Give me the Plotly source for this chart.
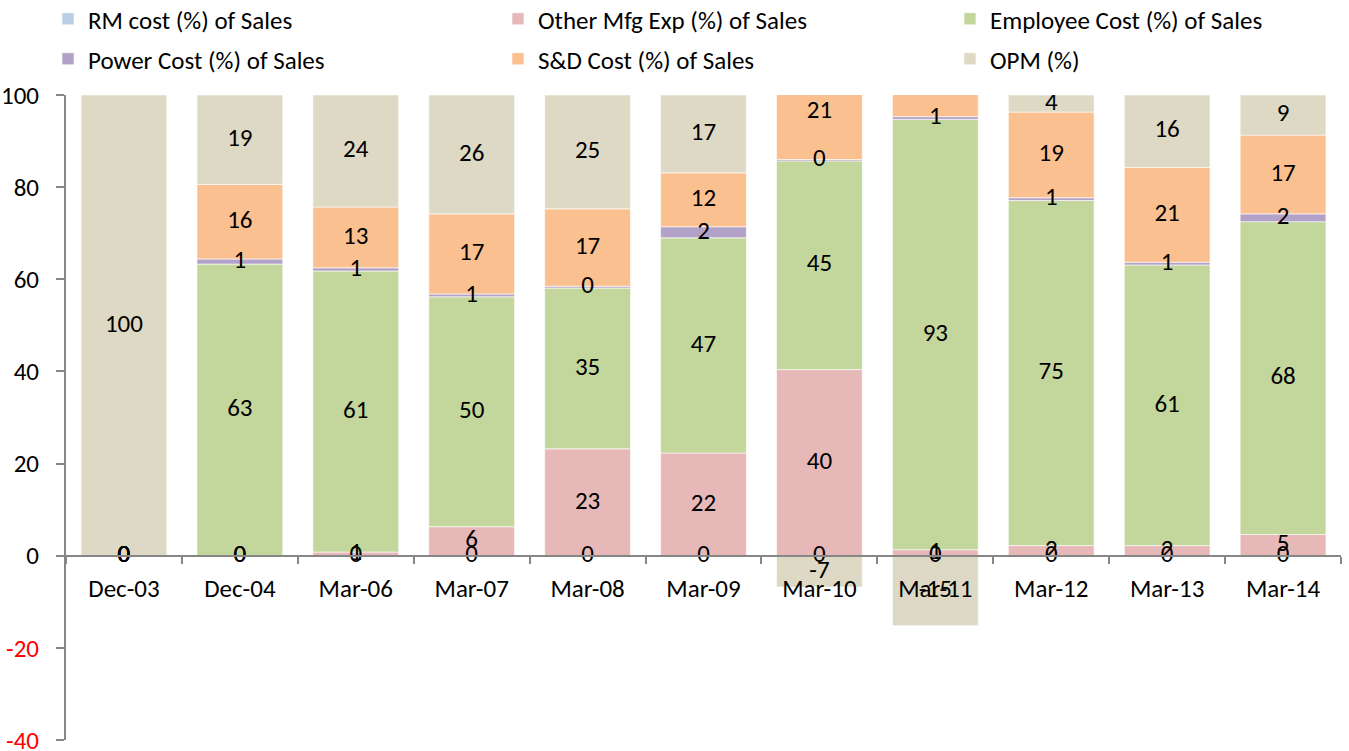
import plotly.graph_objects as go

categories = ["Dec-03", "Dec-04", "Mar-06", "Mar-07", "Mar-08", "Mar-09",
              "Mar-10", "Mar-11", "Mar-12", "Mar-13", "Mar-14"]

rm_cost    = [0, 0, 0, 0, 0, 0, 0, 0, 0, 0, 0]
other_mfg  = [0, 0, 0.8, 6.3, 23.2, 22.3, 40.4, 1.3, 2.2, 2.2, 4.6]
employee   = [0, 63.3, 61.0, 49.9, 34.9, 46.7, 45.3, 93.4, 74.9, 60.9, 67.9]
power      = [0, 1.1, 0.7, 0.6, 0.4, 2.4, 0.3, 0.6, 0.6, 0.6, 1.7]
sd_cost    = [0, 16.2, 13.2, 17.4, 16.8, 11.7, 20.7, 19.9, 18.6, 20.6, 17.1]
opm        = [100, 19.4, 24.3, 25.8, 24.7, 16.9, -6.8, -15.2, 3.7, 15.7, 8.7]

series_names = ["RM cost (%) of Sales", "Other Mfg Exp (%) of Sales",
                "Employee Cost (%) of Sales", "Power Cost (%) of Sales",
                "S&D Cost (%) of Sales", "OPM (%)"]
series_vals = [rm_cost, other_mfg, employee, power, sd_cost, opm]
series_colors = ["#B9CDE5", "#E6B9B8", "#C3D69B", "#B3A2C7", "#FAC090", "#DDD9C4"]

FONT = "Calibri, Carlito, Open Sans, sans-serif"
FS = 25

fig = go.Figure()
legend_ids = ["legend", "legend2", "legend3", "legend4", "legend5", "legend6"]
for name, vals, color, lg in zip(series_names, series_vals, series_colors, legend_ids):
    fig.add_trace(go.Bar(
        x=categories, y=vals, name=name, legend=lg,
        marker=dict(color=color, line=dict(color="white", width=0.6)),
        hoverinfo="x+y+name",
    ))

# data labels centred on each stacked segment (computed from the data)
pos_base = [0.0] * len(categories)
neg_base = [0.0] * len(categories)
lab_x, lab_y, lab_t = [], [], []
for vals in series_vals:
    for i, v in enumerate(vals):
        if v >= 0:
            c = pos_base[i] + v / 2
            pos_base[i] += v
        else:
            c = neg_base[i] + v / 2
            neg_base[i] += v
        lab_x.append(categories[i])
        lab_y.append(c)
        lab_t.append(f"{v:.0f}")

fig.add_trace(go.Scatter(
    x=lab_x, y=lab_y, text=lab_t, mode="text",
    textposition="middle center",
    textfont=dict(family=FONT, size=FS, color="black"),
    showlegend=False, hoverinfo="skip", cliponaxis=True,
))

ytickvals = [100, 80, 60, 40, 20, 0, -20, -40]
yticktext = ["100", "80", "60", "40", "20", "0",
             '<span style="color:red">-20</span>',
             '<span style="color:red">-40</span>']

legend_x = [-0.0141, 0.3388, 0.6933]
legend_y = [1.1178, 1.0558]
legend_cfg = {}
for k, lg in enumerate(legend_ids):
    legend_cfg[lg] = dict(
        orientation="h", x=legend_x[k % 3], xanchor="left",
        y=legend_y[k // 3], yanchor="middle",
        font=dict(family=FONT, size=FS, color="black"),
        bgcolor="rgba(0,0,0,0)",
    )

fig.update_layout(
    barmode="relative",
    bargap=0.26,
    width=1349, height=751,
    margin=dict(l=66, r=8, t=95, b=11, autoexpand=False),
    plot_bgcolor="white", paper_bgcolor="white",
    font=dict(family=FONT, size=FS, color="black"),
    showlegend=True,
    xaxis=dict(
        type="category", anchor="free", position=40 / 140,
        range=[-0.5, len(categories) - 0.5], autorange=False,
        showline=True, linecolor="#868686", linewidth=2,
        ticks="outside", tickson="boundaries", ticklen=7, tickcolor="#868686", tickwidth=2,
        ticklabelstandoff=10,
        showgrid=False, zeroline=False,
        tickfont=dict(family=FONT, size=FS, color="black"),
    ),
    yaxis=dict(
        range=[-40, 100], autorange=False, tickvals=ytickvals, ticktext=yticktext,
        showline=True, linecolor="#868686", linewidth=2,
        ticks="outside", ticklen=8, tickcolor="#868686", tickwidth=2,
        ticklabelstandoff=12, ticklabeloverflow="allow",
        showgrid=False, zeroline=False,
        tickfont=dict(family=FONT, size=FS, color="black"),
    ),
    **legend_cfg,
)

fig.write_html("out.html", config={"displayModeBar": False},
               post_script="document.body.style.margin='0';document.body.style.overflow='hidden';")
